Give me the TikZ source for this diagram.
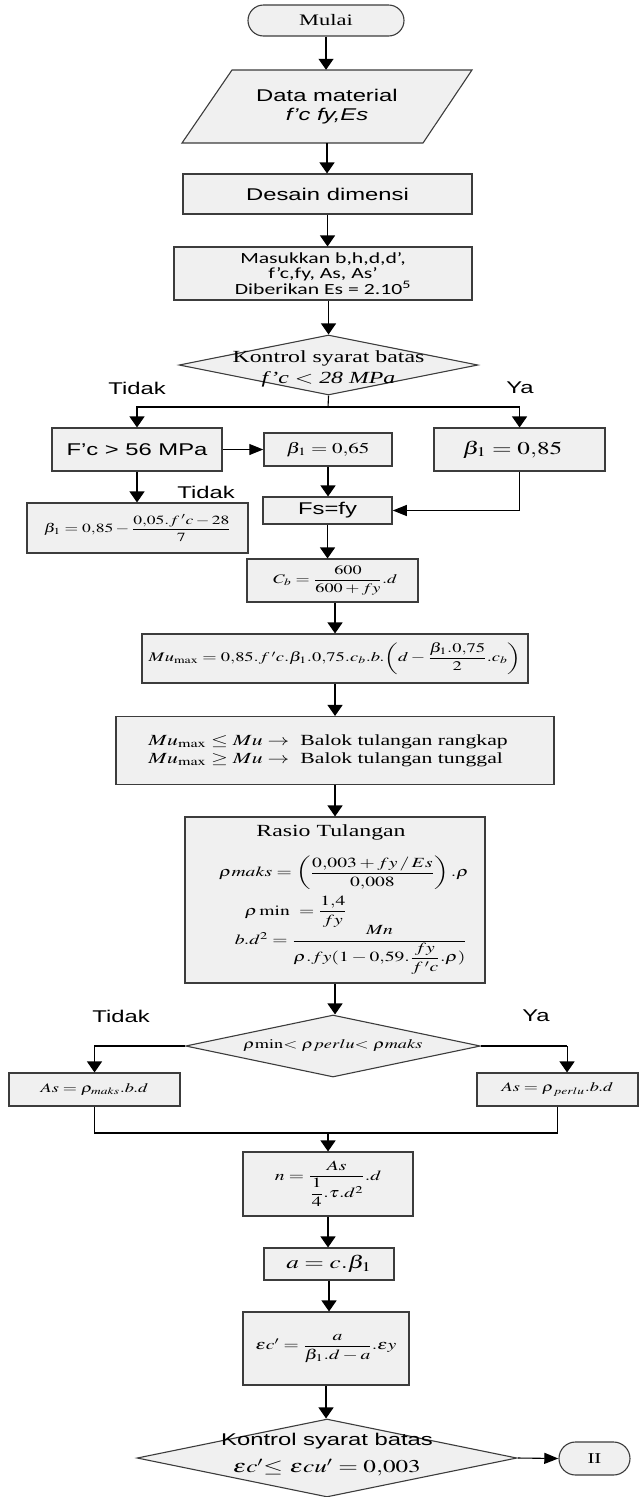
\documentclass[tikz,border=0pt]{standalone}
\usepackage{amsmath}
\usepackage{mathptmx}
\usepackage{fontspec}
\setmainfont{Liberation Serif}
\newfontfamily\sansarial{Liberation Sans}
\newfontfamily\calibri{Carlito}
\usetikzlibrary{shapes.geometric,arrows.meta}
\definecolor{boxfill}{HTML}{F0F0F0}
\definecolor{edge}{HTML}{3C3C3C}
\newcommand\fsz[2]{\fontsize{#1}{#2}\selectfont}

\begin{document}
\begin{tikzpicture}[x=0.714286pt, y=-1pt, xscale=1.4,
  every node/.append style={transform shape},
  pbox/.style={draw=edge, fill=boxfill, line width=1.1pt, inner sep=1pt, align=center},
  sz/.style 2 args={minimum width=#1/1.4, minimum height=#2},
  term/.style={pbox, rounded corners=15.5pt},
  dia/.style={diamond, draw=edge, fill=boxfill, line width=1.1pt, inner sep=0pt},
  txt/.style={inner sep=0pt, align=center},
  lab/.style={inner sep=0pt, font=\sansarial\fsz{17}{20}},
  link/.style={line width=1.1pt, draw=black},
  va/.style={link, -{Triangle[width=15pt,length=11pt]}},
  ha/.style={link, -{Triangle[width=11pt,length=14pt]}},
]
\useasboundingbox (0,0) rectangle (640,1497);
\fill[white] (0,0) rectangle (640,1497);

% start
\node[term, sz={156}{31}, font=\fsz{16}{19}] (mulai) at (326,20.5) {Mulai};

% input data (parallelogram)
\draw[draw=edge, fill=boxfill, line width=1.1pt] (232,70) -- (472,70) -- (423,143) -- (182,143) -- cycle;
\node[txt, sz={241}{73}, font=\sansarial\fsz{17}{19.5}] (data) at (327,106.5)
  {Data material\\\itshape f’c fy,Es};

\node[pbox, sz={289}{40}, font=\sansarial\fsz{17}{20}] (desain) at (327.5,194) {Desain dimensi};

\node[pbox, sz={298}{53}, font=\calibri\fsz{15.5}{15.5}] (masuk) at (323,273.5)
  {Masukkan b,h,d,d’,\\f’c,fy, As, As’\\Diberikan Es = 2.10\textsuperscript{5}};

% first check
\node[dia, sz={299}{60}] (kon1) at (328.5,365) {};
\node[txt, font=\fsz{17}{21}] (kon1t) at (328.5,369) {Kontrol syarat batas\\\itshape f’c $<$ 28 MPa};

\node[lab] (tidak1) at (137,388) {Tidak};
\node[lab] (ya1) at (520,388) {Ya};
\node[lab] (tidak2) at (206,492) {Tidak};

\node[pbox, sz={170}{43}, font=\sansarial\fsz{17}{20}] (fc56) at (137,449.5) {F’c > 56 MPa};
\node[pbox, sz={128}{33}, font=\fsz{15}{18}] (b065) at (328,449.5) {$\beta_1 = 0{,}65$};
\node[pbox, sz={171}{43}, font=\fsz{18}{21}] (b085) at (519.5,449.5) {$\beta_1 = 0{,}85$\hspace*{10pt}};
\node[pbox, sz={221}{50}, font=\fsz{12.5}{15}] (bform) at (137.5,528)
  {$\beta_1 = 0{,}85 - \dfrac{0{,}05.f\,'c - 28}{7}$};
\node[pbox, sz={129}{27}, font=\sansarial\fsz{17}{20}] (fsfy) at (327.5,510.5) {Fs=fy};
\node[pbox, sz={171}{43}, font=\fsz{13}{15}] (cb) at (332.5,580.5)
  {\hspace*{4pt}$C_b = \dfrac{600}{600 + fy}.d$};
\node[pbox, sz={386}{49}, font=\fsz{13.2}{16}] (mu) at (335,658.5)
  {$Mu_{\max} = 0{,}85.f\,'c.\beta_1.0{,}75.c_b.b.\!\left(d - \dfrac{\beta_1.0{,}75}{2}.c_b\right)$};
\node[pbox, sz={438}{68}, font=\fsz{15.5}{18}] (balok) at (335,750.5)
  {\begin{tabular}{@{}l@{\hspace{8pt}}l@{}}
   $Mu_{\max} \le Mu \rightarrow$ & Balok tulangan rangkap\\
   $Mu_{\max} \ge Mu \rightarrow$ & Balok tulangan tunggal
   \end{tabular}\hspace*{10pt}};

% reinforcement ratio
\node[pbox, sz={300}{166}] (rasio) at (335,900) {};
\node[txt, font=\fsz{17}{20}] (rasio1) at (331,832) {Rasio Tulangan};
\node[txt, font=\fsz{14}{16}] (rasio2) at (344,873)
  {$\rho maks = \left(\dfrac{0{,}003 + fy\,/\,Es}{0{,}008}\right).\rho$};
\node[txt, font=\fsz{14}{16}] (rasio3) at (296,912)
  {$\rho\,\mathrm{min}\ = \dfrac{1{,}4}{fy}$};
\node[txt, font=\fsz{14}{16}] (rasio4) at (351,950)
  {$b.d^2 = \dfrac{Mn}{\rho.fy(1 - 0{,}59.\dfrac{fy}{f\,'c}.\rho)}$};

% second check
\node[dia, sz={295}{62}] (kon2) at (333,1046) {};
\node[txt, font=\fsz{13}{15}] (kon2t) at (333,1046) {$\rho\mathrm{min}{<}\ \rho perlu{<}\ \rho maks$};
\node[lab] (tidak3) at (121,1016) {Tidak};
\node[lab] (ya2) at (536,1016) {Ya};

\node[pbox, sz={171}{33}, font=\fsz{13}{15}] (asmaks) at (94.5,1089.5) {$As = \rho_{maks}.b.d$};
\node[pbox, sz={161}{33}, font=\fsz{13}{15}] (asperlu) at (557.5,1089.5) {$As = \rho_{\,perlu}.b.d$};

\node[pbox, sz={170}{64}, font=\fsz{14}{16}] (nbox) at (328,1184)
  {$n = \dfrac{As}{\dfrac{1}{4}.\tau.d^2}.d$};
\node[pbox, sz={130}{32}, font=\fsz{18}{20}] (abox) at (329,1264) {$a = c.\beta_1$};
\node[pbox, sz={166}{73}, font=\fsz{14}{16}] (ecbox) at (326,1348.5)
  {$\varepsilon c' = \dfrac{a}{\beta_1.d - a}.\varepsilon y$};

% final check
\node[dia, sz={380}{78}] (kon3) at (327,1458) {};
\node[txt, font=\sansarial\fsz{17}{27}] (kon3t) at (327,1455)
  {Kontrol syarat batas\\\fsz{18}{20}$\varepsilon c'{\le}\ \varepsilon cu' = 0{,}003$};
\node[term, sz={71}{33}, rounded corners=16.5pt, font=\fsz{15}{18}] (ii) at (594.5,1458.5) {II};

% connectors
\coordinate (j1) at (328,407);
\coordinate (jr) at (567,1046);
\coordinate (m) at (328,1133);

\draw[va] (mulai.south) -- (mulai.south |- data.north);
\draw[va] (data.south) -- (data.south |- desain.north);
\draw[va] (desain.south) -- (desain.south |- masuk.north);
\draw[va] (masuk.south -| kon1.north) -- (kon1.north);
\draw[link] (kon1.south) -- (j1);
\draw[va] (j1) -| (fc56.north);
\draw[va] (j1) -| (b085.north);
\draw[ha] (fc56.east) -- (b065.west);
\draw[va] (fc56.south) -- (fc56.south |- bform.north);
\draw[va] (b065.south) -- (b065.south |- fsfy.north);
\draw[ha] (b085.south) |- (fsfy.east);
\draw[va] (fsfy.south) -- (fsfy.south |- cb.north);
\draw[va] (mu.north |- cb.south) -- (mu.north);
\draw[va] (mu.south) -- (mu.south |- balok.north);
\draw[va] (balok.south) -- (balok.south |- rasio.north);
\draw[va] (rasio.south) -- (rasio.south |- kon2.north);
\draw[va] (kon2.west) -| (asmaks.north);
\draw[link] (kon2.east) -- (jr);
\draw[va] (jr) -- (jr |- asperlu.north);
\draw[link] (asmaks.south) |- (m) -| (asperlu.south);
\draw[va] (m) -- (nbox.north);
\draw[va] (nbox.south) -- (nbox.south |- abox.north);
\draw[va] (abox.south) -- (abox.south |- ecbox.north);
\draw[va] (ecbox.south) -- (ecbox.south |- kon3.north);
\draw[ha] (kon3.east) -- (ii.west);
\end{tikzpicture}
\end{document}
